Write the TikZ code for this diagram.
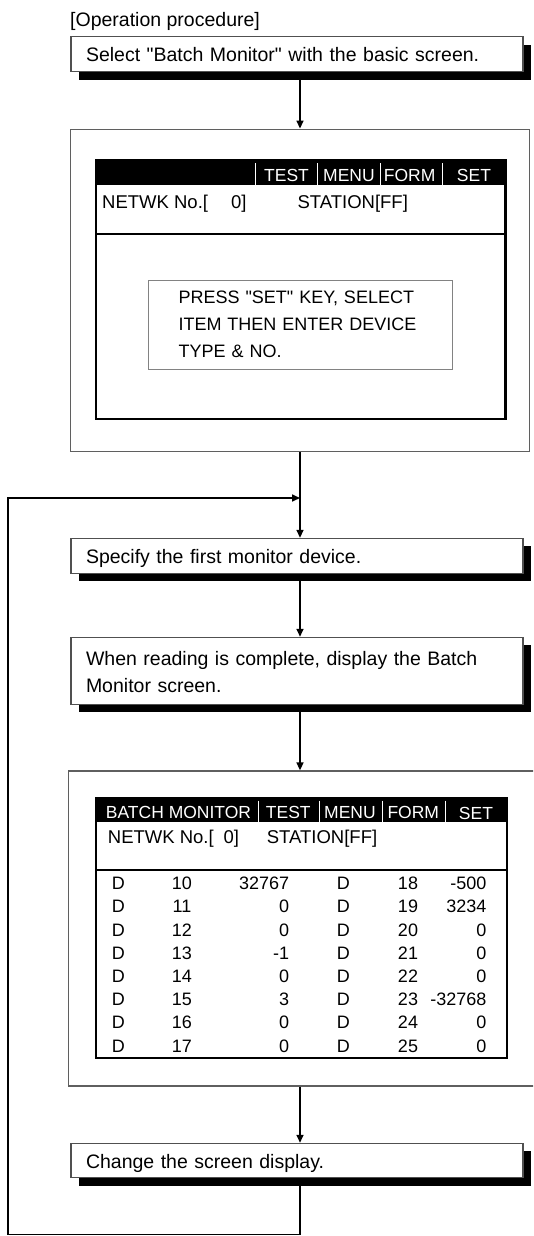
\documentclass[tikz,border=0pt]{standalone}
\usepackage{fontspec}
\setmainfont{Liberation Sans}[Ligatures=TeXOff]
\usetikzlibrary{arrows.meta,shadows}
\definecolor{boxg}{RGB}{80,80,80}
\definecolor{frameg}{RGB}{95,95,95}
\definecolor{msgg}{RGB}{130,130,130}
\begin{document}
\begin{tikzpicture}[x=1pt,y=-1pt,
  flowbox/.style={draw=boxg, line width=1.2pt, fill=white, rectangle,
    minimum width=452pt, text width=422pt, inner xsep=15pt, inner ysep=0pt,
    align=left, font=\fontsize{19.5}{27.2}\selectfont,
    drop shadow={shadow xshift=8pt, shadow yshift=-8pt, fill=black, opacity=1, draw=none}},
  oneline/.style={text height=15pt, text depth=0pt},
  frame/.style={draw=frameg, line width=1.3pt, rectangle, inner sep=0pt},
  screen/.style={draw=black, line width=2.4pt, rectangle, inner sep=0pt},
  hdr/.style={fill=black, rectangle, inner sep=0pt},
  hdrsep/.style={draw=white, line width=1pt},
  hdrtxt/.style={text=white, font=\fontsize{17.5}{19}\selectfont, inner sep=0pt, anchor=base},
  scrtxt/.style={font=\fontsize{18.5}{20}\selectfont, inner sep=0pt, anchor=base west},
  tbl/.style={font=\fontsize{18}{20}\selectfont, inner sep=0pt},
  msgbox/.style={draw=msgg, line width=0.9pt, rectangle, inner ysep=0pt, inner xsep=30pt,
    text width=244.3pt, align=left, font=\fontsize{18}{26.9}\selectfont},
  conn/.style={draw=black, line width=1.6pt},
  arr/.style={conn, -{Triangle[length=8pt,width=7pt]}}
]
\path[use as bounding box, clip] (0,0) rectangle (533,1236);

\coordinate (ax) at (300,0);

% title
\node[anchor=base west, inner sep=0pt, font=\fontsize{19.5}{22}\selectfont] (title) at (70,27) {[Operation procedure]};

% box 1
\node[flowbox, oneline, minimum height=35pt] (box1) at (297,54.4) {Select "Batch Monitor" with the basic screen.};

% box 2 : outer frame and screen
\node[frame, minimum width=458.9pt, minimum height=322.4pt] (box2) at (300.15,290.4) {};
\node[screen, minimum width=409.5pt, minimum height=258.6pt] (scr2) at (300.75,289.7) {};
\node[hdr, minimum width=409.5pt, minimum height=25.9pt, anchor=north] (hdr2) at (scr2.north) {};
\draw[hdrsep] (255.6,163) -- (255.6,186.3);
\draw[hdrsep] (317.8,163) -- (317.8,186.3);
\draw[hdrsep] (380.7,163) -- (380.7,186.3);
\draw[hdrsep] (442.9,163) -- (442.9,186.3);
\node[hdrtxt] (h2a) at (286.5,181.3) {TEST};
\node[hdrtxt] (h2b) at (349,181.3) {MENU};
\node[hdrtxt] (h2c) at (409.6,181.3) {FORM};
\node[hdrtxt] (h2d) at (474,181.3) {SET};
\node[scrtxt] (n2a) at (102,208.2) {NETWK No.[};
\node[scrtxt] (n2b) at (231,208.2) {0]};
\node[scrtxt] (n2c) at (297.4,208.2) {STATION[FF]};
\draw[black, line width=1.6pt] (96,233.9) -- (505.5,233.9);
\node[msgbox, minimum width=304.3pt, minimum height=89pt] (msg) at (300.65,324.5)
  {PRESS "SET" KEY, SELECT\\ITEM THEN ENTER DEVICE\\TYPE \& NO.};

% box 3
\node[flowbox, oneline, minimum height=35pt] (box3) at (297,555.9) {Specify the first monitor device.};

% box 4
\node[flowbox, text height=14pt, text depth=24.9pt, minimum height=67pt] (box4) at (297,670.85)
  {When reading is complete, display the Batch\\Monitor screen.};

% box 5 : outer frame and screen
\node[frame, minimum width=476.3pt, minimum height=315pt] (box5) at (306.85,928.5) {};
\node[screen, minimum width=411pt, minimum height=259.5pt] (scr5) at (301.5,928.05) {};
\node[hdr, minimum width=411pt, minimum height=25pt, anchor=north] (hdr5) at (scr5.north) {};
\draw[hdrsep] (258,800.5) -- (258,823.3);
\draw[hdrsep] (319.3,800.5) -- (319.3,823.3);
\draw[hdrsep] (382.3,800.5) -- (382.3,823.3);
\draw[hdrsep] (445,800.5) -- (445,823.3);
\node[hdrtxt, anchor=base west] (h5a) at (105.7,818) {BATCH MONITOR};
\node[hdrtxt] (h5b) at (288.3,818) {TEST};
\node[hdrtxt] (h5c) at (350,818) {MENU};
\node[hdrtxt] (h5d) at (413.3,818) {FORM};
\node[hdrtxt] (h5e) at (476,819.5) {SET};
\node[scrtxt] (n5a) at (107.7,843.3) {NETWK No.[};
\node[scrtxt] (n5b) at (223.3,843.3) {0]};
\node[scrtxt] (n5c) at (266.7,843.3) {STATION[FF]};
\draw[black, line width=1.6pt] (96,870) -- (507,870);
\foreach \na/\va/\nb/\vb [count=\i from 0] in
  {10/32767/18/-500, 11/0/19/3234, 12/0/20/0, 13/-1/21/0,
   14/0/22/0, 15/3/23/-32768, 16/0/24/0, 17/0/25/0}{
  \pgfmathsetmacro{\yy}{889.7+23.2*\i}
  \node[tbl, anchor=base] (r\i d1) at (118.3,\yy) {D};
  \node[tbl, anchor=base] (r\i n1) at (182,\yy) {\na};
  \node[tbl, anchor=base east] (r\i v1) at (289.3,\yy) {\va};
  \node[tbl, anchor=base] (r\i d2) at (343.3,\yy) {D};
  \node[tbl, anchor=base] (r\i n2) at (408,\yy) {\nb};
  \node[tbl, anchor=base east] (r\i v2) at (486.7,\yy) {\vb};
}

% box 6
\node[flowbox, oneline, minimum height=34.5pt] (box6) at (297,1160.6) {Change the screen display.};

% connectors
\draw[arr] (box1.south -| ax) -- (box2.north -| ax);
\draw[arr] (box2.south -| ax) -- (box3.north -| ax);
\draw[arr] (box3.south -| ax) -- (box4.north -| ax);
\draw[arr] (box4.south -| ax) -- (box5.north -| ax);
\draw[arr] (box5.south -| ax) -- (box6.north -| ax);
\coordinate (lbr) at (300,1234.5);
\coordinate (lbl) at (8.2,1234.5);
\coordinate (ltl) at (8.2,498);
\coordinate (join) at (300,498);
\draw[arr] (box6.south -| ax) -- (lbr) -- (lbl) -- (ltl) -- (join);
\end{tikzpicture}
\end{document}
